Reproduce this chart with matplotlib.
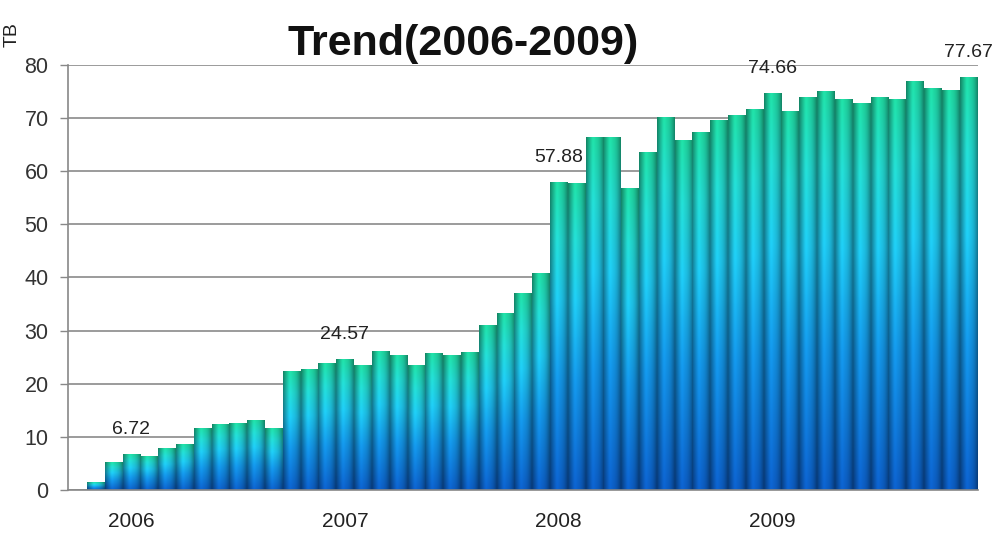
import numpy as np
import matplotlib
matplotlib.use("Agg")
import matplotlib.pyplot as plt
from matplotlib.colors import LinearSegmentedColormap

# ---- data ----
months = ["2005-10", "2005-11", "2005-12"] + [f"{y}-{m:02d}" for y in (2006, 2007, 2008, 2009) for m in range(1, 13)]
values = [0, 1.5, 5.15,
          6.72, 6.35, 7.8, 8.55, 11.6, 12.3, 12.6, 13.0, 11.6, 22.3, 22.7, 23.8,
          24.57, 23.4, 26.0, 25.3, 23.4, 25.6, 25.3, 25.9, 30.9, 33.2, 36.9, 40.8,
          57.88, 57.7, 66.3, 66.3, 56.7, 63.5, 70.2, 65.7, 67.2, 69.6, 70.5, 71.6,
          74.66, 71.3, 73.8, 75.0, 73.5, 72.7, 73.8, 73.5, 76.8, 75.6, 75.2, 77.67]
year_labels = ["2006", "2007", "2008", "2009"]
year_months = ["2006-01", "2007-01", "2008-01", "2009-01"]
label_months = ["2006-01", "2007-01", "2008-01", "2009-01", "2009-12"]
title = "Trend(2006-2009)"
ylabel = "TB"

plt.rcParams["font.family"] = ["Liberation Sans", "DejaVu Sans"]

fig = plt.figure(figsize=(10, 5.34), dpi=100)
ax = fig.add_axes([0.068, 0.0824, 0.910, 0.796])

x = np.arange(len(months))
bars = ax.bar(x, values, width=0.97, color="none", edgecolor="none", zorder=2)

cmap = LinearSegmentedColormap.from_list(
    "barg",
    [(0.0, "#0c5ec6"), (0.35, "#1392e2"), (0.62, "#1ec4ea"), (0.82, "#22d4cc"), (1.0, "#1fd6a0")])
ncol = 24
cx = np.linspace(-1, 1, ncol)
shade = 1.0 - 0.38 * np.abs(cx) ** 2.0
shade = shade + 0.08 * np.exp(-((cx + 0.25) / 0.25) ** 2)
for b in bars:
    h = b.get_height()
    if h <= 0:
        continue
    nrow = 128
    grad = cmap(np.linspace(0, 1, nrow))[:, :3]
    img = grad[:, None, :] * shade[None, :, None]
    img = np.clip(img, 0, 1)
    ax.imshow(img, extent=[b.get_x(), b.get_x() + b.get_width(), 0, h],
              origin="lower", aspect="auto", clip_path=b, zorder=2, interpolation="bilinear")

ax.set_xlim(-0.55, len(months) - 0.45)
ax.set_ylim(0, 80)
ax.set_yticks(range(0, 81, 10))
ax.yaxis.grid(True, color="#8a8a8a", linewidth=1.2, zorder=0)
ax.set_axisbelow(True)
ax.set_xticks([months.index(m) for m in year_months])
ax.set_xticklabels(year_labels)
ax.tick_params(axis="x", length=0, labelsize=15, colors="#222222", pad=16)
ax.tick_params(axis="y", length=6, width=1, color="#888888", labelsize=15.5, labelcolor="#333333", pad=8)
for s in ("top", "right"):
    ax.spines[s].set_visible(False)
for s in ("left", "bottom"):
    ax.spines[s].set_color("#888888")
    ax.spines[s].set_linewidth(1.2)

for m in label_months:
    i = months.index(m)
    ax.annotate(f"{values[i]:.2f}", (i, values[i]), xytext=(0, 12), textcoords="offset points",
                ha="center", va="bottom", fontsize=14, color="#222222", clip_on=False)

fig.text(0.463, 0.918, title, ha="center", va="center", fontsize=31, fontweight="bold", color="#111111")
fig.text(0.012, 0.935, ylabel, ha="center", va="center", rotation=90, fontsize=14, color="#222222")

fig.savefig("out.png", dpi=100)
